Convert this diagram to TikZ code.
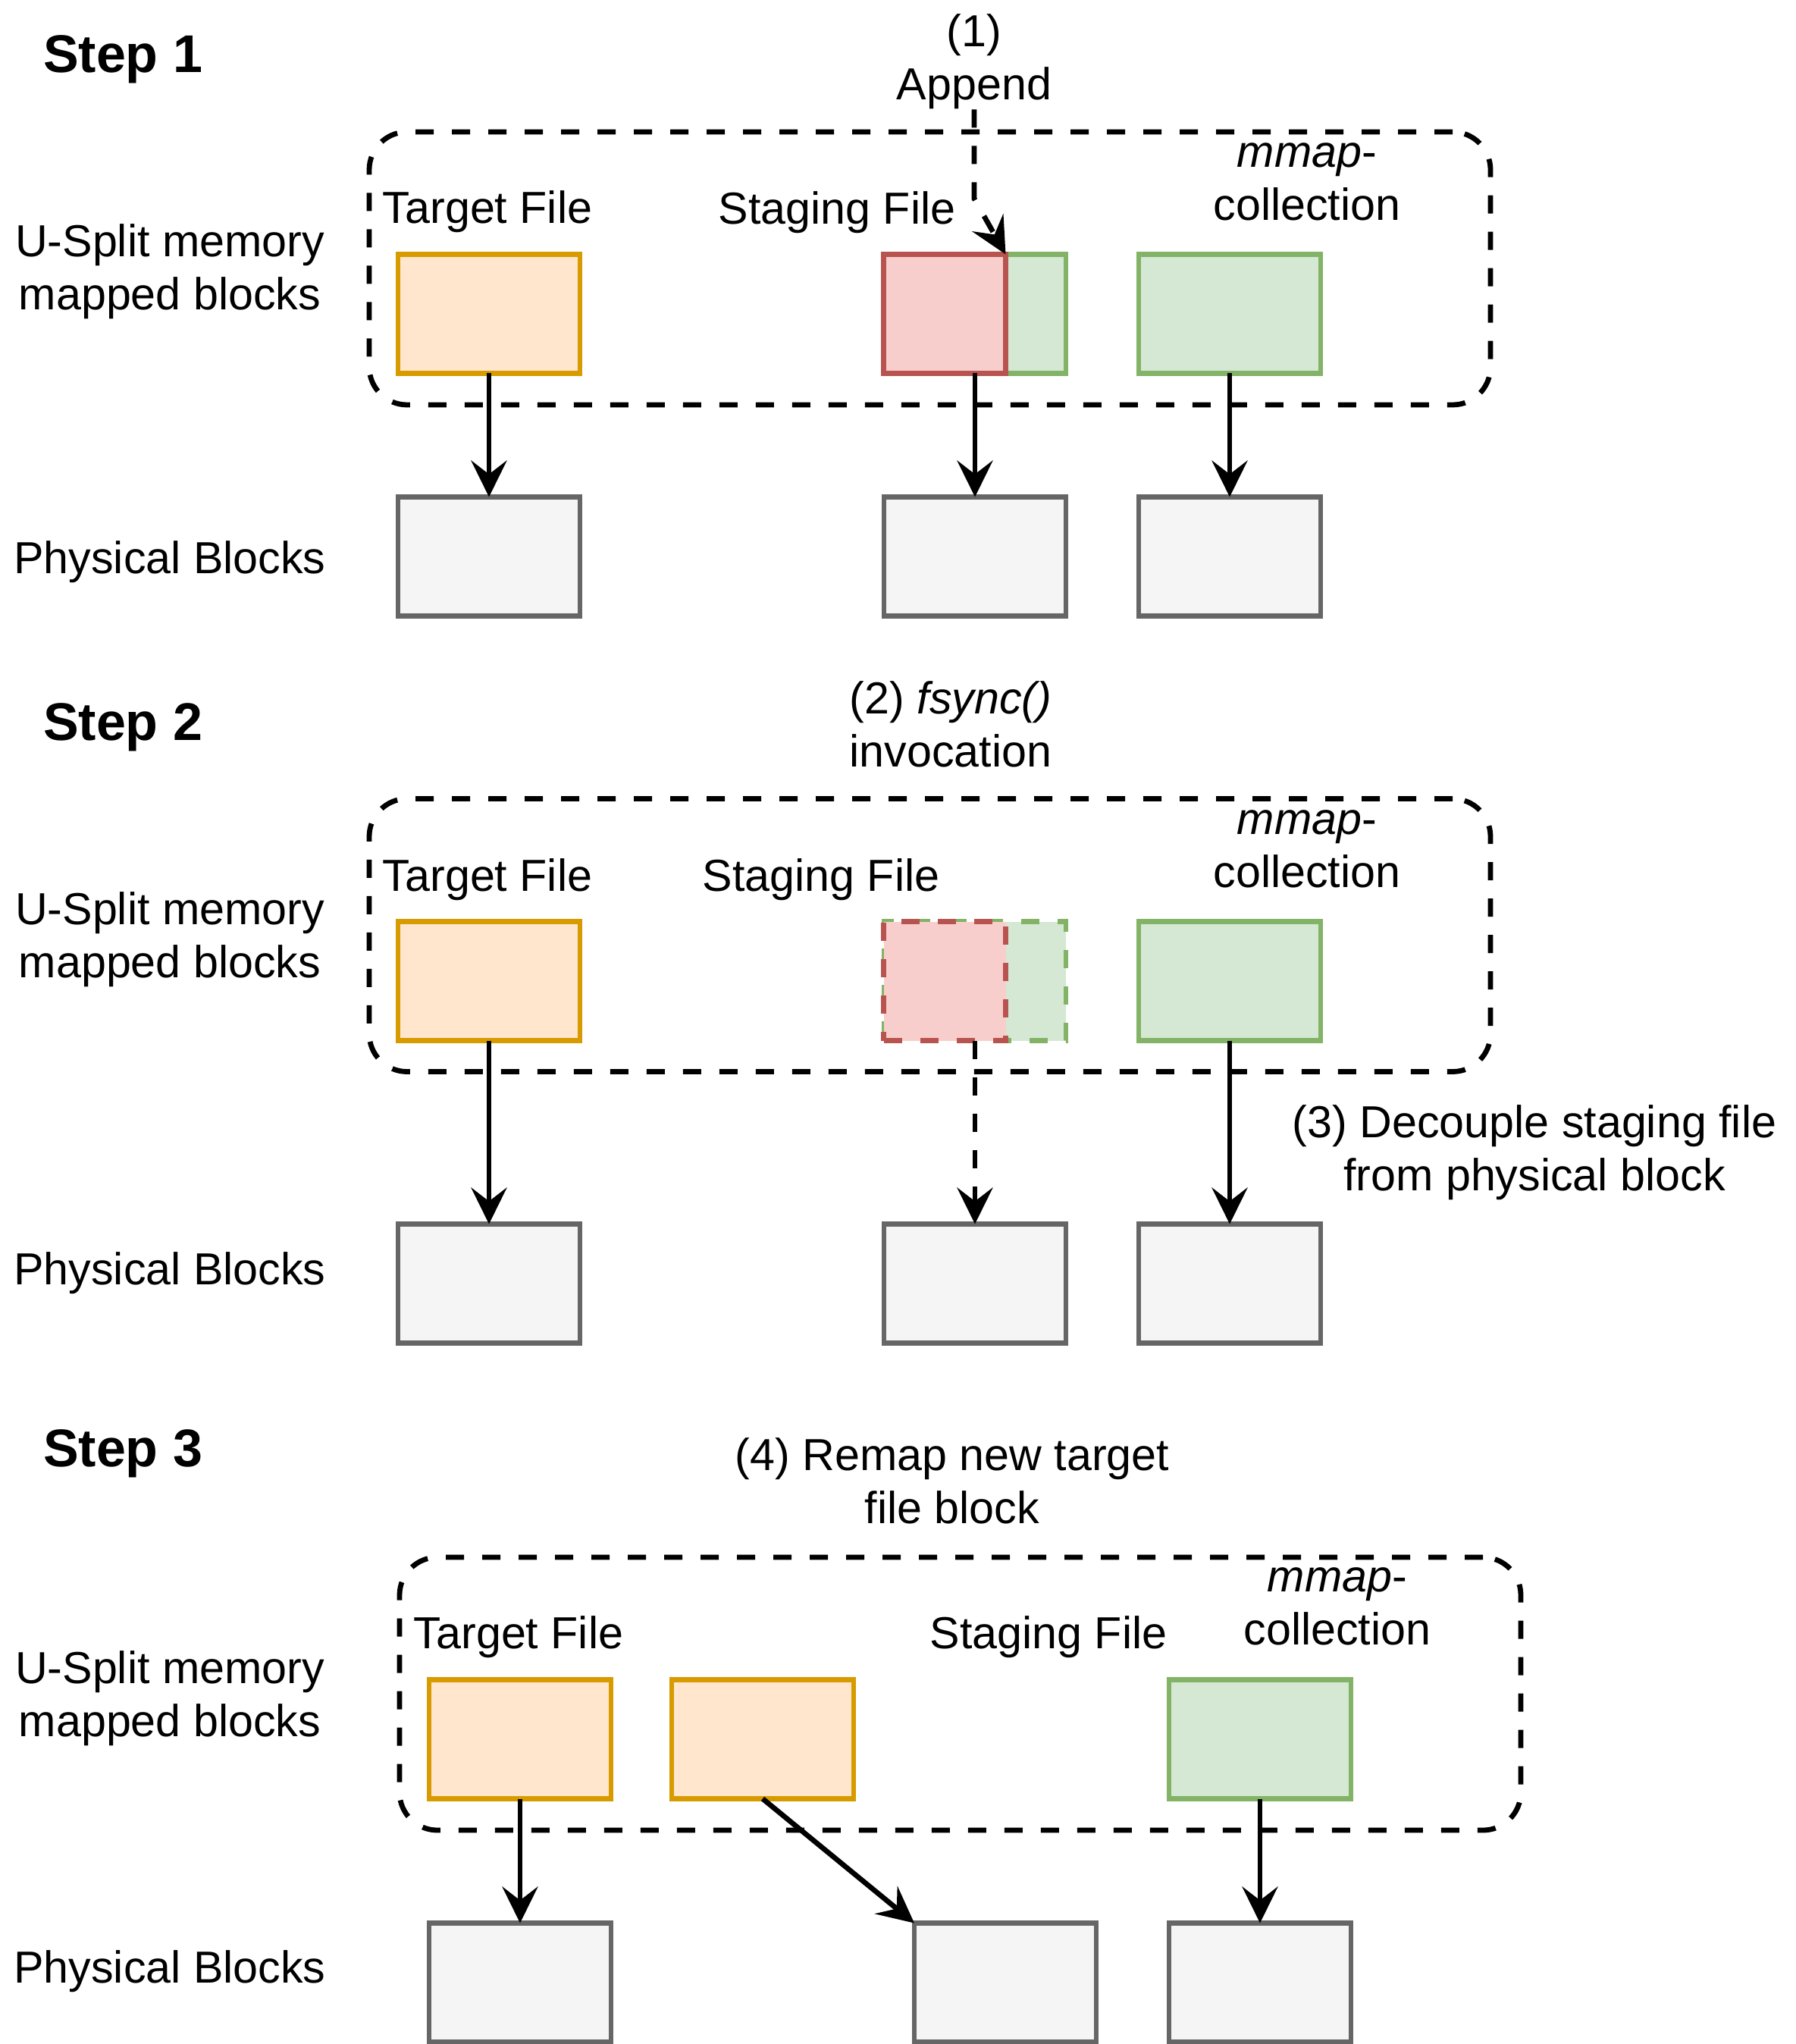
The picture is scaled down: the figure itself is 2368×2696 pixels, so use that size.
\documentclass[tikz,border=0pt]{standalone}
\usepackage{fontspec}
\setmainfont{Liberation Sans}
\usetikzlibrary{arrows.meta}
\definecolor{orfill}{HTML}{FFE6CC}
\definecolor{orline}{HTML}{D79B00}
\definecolor{rdfill}{HTML}{F8CECC}
\definecolor{rdline}{HTML}{B85450}
\definecolor{gnfill}{HTML}{D5E8D4}
\definecolor{gnline}{HTML}{82B366}
\definecolor{gyfill}{HTML}{F5F5F5}
\definecolor{gyline}{HTML}{666666}
\begin{document}
\begin{tikzpicture}[x=0.5pt,y=-0.5pt,
  txt/.style={inner sep=0pt, outer sep=0pt, font=\fontsize{29.6}{35}\selectfont, align=center, anchor=base},
  steplbl/.style={inner sep=0pt, outer sep=0pt, font=\fontsize{35}{40}\selectfont\bfseries, anchor=base west},
  blk/.style={draw, line width=3.4pt, minimum width=120pt, minimum height=78.5pt, inner sep=0pt, outer sep=0pt},
  tgtblk/.style={blk, draw=orline, fill=orfill},
  stgblk/.style={blk, draw=rdline, fill=rdfill, minimum width=80.5pt},
  mmblk/.style={blk, draw=gnline, fill=gnfill},
  phyblk/.style={blk, draw=gyline, fill=gyfill},
  dsh/.style={dash pattern=on 12pt off 12pt},
  grp/.style={draw, dsh, line width=3.4pt, rounded corners=25pt, minimum width=739.5pt, minimum height=180pt, inner sep=0pt, outer sep=0pt},
  arr/.style={line width=3.4pt, -{Stealth[length=24pt,width=23.5pt,inset=9pt]}},
  darr/.style={arr, dsh},
]
\useasboundingbox (0,0) rectangle (2368,2696);

% ---------------- Step 1 ----------------
\node[steplbl] (st1) at (57,96) {Step 1};
\node[grp] (c1) at (1226.5,354) {};
\node[txt] (us1) at (224,409) {U-Split memory\\mapped blocks};
\node[txt] (pb1) at (224,756) {Physical Blocks};
\node[txt] (tf1) at (643,295) {Target File};
\node[txt] (sf1) at (1104,296) {Staging File};
\node[txt] (mc1) at (1724,291) {\textit{mmap}-\\collection};
\node[txt] (ap1) at (1285,132) {(1)\\Append};

\node[tgtblk] (t1) at (645,414) {};
\node[mmblk] (sg1) at (1286,414) {};
\node[stgblk] (sr1) at (1246,414) {};
\node[mmblk] (m1) at (1622,414) {};
\node[phyblk] (p1a) at (645,734) {};
\node[phyblk] (p1b) at (1286,734) {};
\node[phyblk] (p1c) at (1622,734) {};

\coordinate (bend1) at (1285,262);
\draw[darr] (ap1.south) -- (bend1) -- (sr1.north east);
\draw[arr] (t1.south) -- (p1a.north);
\draw[arr] (sg1.south) -- (p1b.north);
\draw[arr] (m1.south) -- (p1c.north);

% ---------------- Step 2 ----------------
\node[steplbl] (st2) at (57,976) {Step 2};
\node[grp] (c2) at (1226.5,1233.5) {};
\node[txt] (us2) at (224,1289) {U-Split memory\\mapped blocks};
\node[txt] (pb2) at (224,1694) {Physical Blocks};
\node[txt] (tf2) at (643,1175) {Target File};
\node[txt] (sf2) at (1083,1175) {Staging File};
\node[txt] (mc2) at (1724,1170) {\textit{mmap}-\\collection};
\node[txt] (fs2) at (1254,1011) {(2) \textit{fsync()}\\invocation};
\node[txt] (dc2) at (2024,1570) {(3) Decouple staging file\\from physical block};

\node[tgtblk] (t2) at (645,1294) {};
\node[mmblk, dsh] (sg2) at (1286,1294) {};
\node[stgblk, dsh] (sr2) at (1246,1294) {};
\node[mmblk] (m2) at (1622,1294) {};
\node[phyblk] (p2a) at (645,1693) {};
\node[phyblk] (p2b) at (1286,1693) {};
\node[phyblk] (p2c) at (1622,1693) {};

\draw[arr] (t2.south) -- (p2a.north);
\draw[darr] (sg2.south) -- (p2b.north);
\draw[arr] (m2.south) -- (p2c.north);

% ---------------- Step 3 ----------------
\node[steplbl] (st3) at (57,1934) {Step 3};
\node[grp] (c3) at (1266.5,2234) {};
\node[txt] (us3) at (224,2290) {U-Split memory\\mapped blocks};
\node[txt] (pb3) at (224,2615) {Physical Blocks};
\node[txt] (tf3) at (684,2174) {Target File};
\node[txt] (sf3) at (1383,2174) {Staging File};
\node[txt] (mc3) at (1764,2169) {\textit{mmap}-\\collection};
\node[txt] (rm3) at (1256,2009) {(4) Remap new target\\file block};

\node[tgtblk] (t3a) at (686,2294) {};
\node[tgtblk] (t3b) at (1006,2294) {};
\node[mmblk] (m3) at (1662,2294) {};
\node[phyblk] (p3a) at (686,2615) {};
\node[phyblk] (p3b) at (1326,2615) {};
\node[phyblk] (p3c) at (1662,2615) {};

\draw[arr] (t3a.south) -- (p3a.north);
\draw[arr] (t3b.south) -- (p3b.north west);
\draw[arr] (m3.south) -- (p3c.north);
\end{tikzpicture}
\end{document}
